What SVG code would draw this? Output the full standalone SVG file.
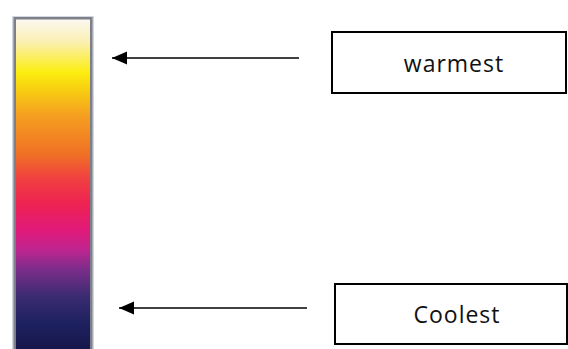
<svg xmlns="http://www.w3.org/2000/svg" width="568" height="349" viewBox="0 0 568 349">
  <style>
    .box { fill: #ffffff; stroke: #000000; stroke-width: 2; }
    .label { font-family: "Open Sans", "Liberation Sans", sans-serif; font-size: 23px; fill: #111111; text-anchor: middle; letter-spacing: 1px; }
    .arrow { stroke: #000000; stroke-width: 1.5; fill: none; marker-end: url(#head); }
  </style>
  <defs>
    <marker id="head" markerWidth="16" markerHeight="14" refX="15" refY="7" orient="auto" markerUnits="userSpaceOnUse">
      <path d="M0,0.5 L15,7 L0,13.5 Z" fill="#000000"/>
    </marker>
    <!-- temperature scale, warm at top to cool at bottom -->
    <linearGradient id="heat" x1="0" y1="0" x2="0" y2="1">
      <stop offset="0" stop-color="#fbf8f0"/>
      <stop offset="0.07" stop-color="#fbefb0"/>
      <stop offset="0.16" stop-color="#fcee10"/>
      <stop offset="0.21" stop-color="#f8d010"/>
      <stop offset="0.29" stop-color="#f5a020"/>
      <stop offset="0.41" stop-color="#f07025"/>
      <stop offset="0.48" stop-color="#f04240"/>
      <stop offset="0.56" stop-color="#ee2252"/>
      <stop offset="0.64" stop-color="#e01a7a"/>
      <stop offset="0.70" stop-color="#be2590"/>
      <stop offset="0.76" stop-color="#7a2d8a"/>
      <stop offset="0.84" stop-color="#3b2b72"/>
      <stop offset="0.92" stop-color="#1e2160"/>
      <stop offset="1" stop-color="#16174a"/>
    </linearGradient>
  </defs>

  <g id="scale">
    <rect x="12" y="16" width="82" height="333" fill="#d3d7e0"/>
    <rect x="13.5" y="17" width="79" height="332" fill="#7d8088"/>
    <rect x="16" y="19.5" width="74" height="329.5" fill="url(#heat)"/>
  </g>

  <g id="connectors">
    <line class="arrow" x1="299" y1="58" x2="112" y2="58"/>
    <line class="arrow" x1="307" y1="308" x2="119" y2="308"/>
  </g>

  <g id="warmest">
    <rect class="box" x="332" y="32" width="234" height="61"/>
    <text class="label" x="454" y="72">warmest</text>
  </g>

  <g id="coolest">
    <rect class="box" x="335" y="284" width="232" height="60"/>
    <text class="label" x="457" y="323">Coolest</text>
  </g>
</svg>
